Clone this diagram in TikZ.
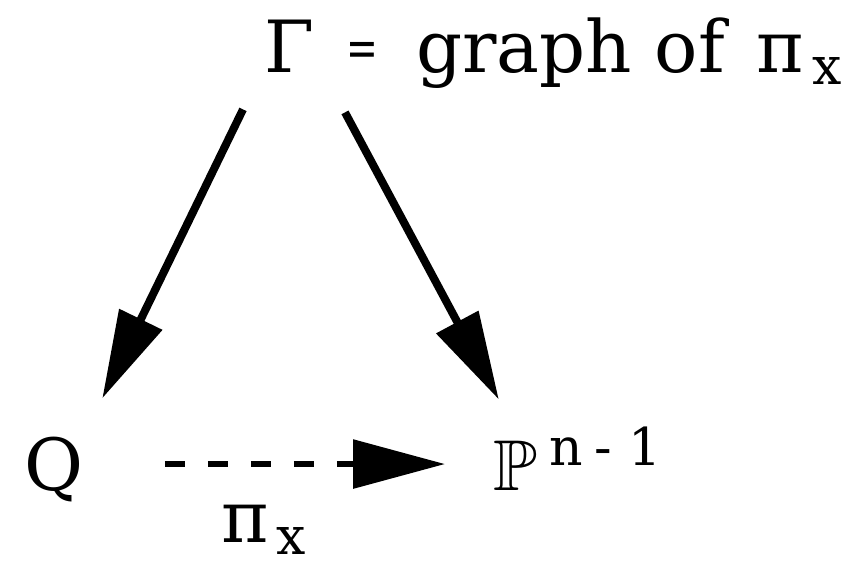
\documentclass[tikz,border=0pt]{standalone}
\usepackage{fix-cm}
\usepackage{amsmath,amssymb,amsfonts}
\usepackage{graphicx}
\usepackage{fontspec}
\setmainfont{DejaVu Serif}
\usepackage{tikz}
\usetikzlibrary{arrows.meta, positioning}

\newcommand{\subx}{\hspace{4pt}\raisebox{-6pt}{\fontsize{26}{28}\selectfont x}}
\newcommand{\smalleq}{\raisebox{3pt}{\scalebox{1}[1.4]{\fontsize{19}{20}\selectfont =}}}

\begin{document}
\begin{tikzpicture}[
    x=0.5pt, y=-0.5pt,
    every node/.style={font=\fontsize{36}{44}\selectfont, inner sep=0pt},
    mapline/.style={draw=black, line width=4pt, -{Triangle[length=44pt, width=23pt]}},
    rational/.style={draw=black, line width=3pt, dash pattern=on 10pt off 11.5pt,
                     -{Triangle[length=46pt, width=24pt]}}
]
\useasboundingbox (0,0) rectangle (848,568);

% -------- Top: the graph, bottom row: Q and projective space --------
\node[anchor=base west] (graph) at (264,72)
    {Γ\hspace{16pt}\smalleq\hspace{19pt}graph of\hspace{16pt}π\subx};
\node[anchor=base]      (Q)     at (54,490) {Q};
\node[anchor=base west] (proj)  at (493,490)
    {$\mathbb{P}$\hspace{6pt}\raisebox{12.5pt}{\fontsize{26}{28}\selectfont n\hspace{6pt}-\hspace{8pt}1}};

% -------- Projections from the graph --------
\draw[mapline, shorten >=21pt]   ([xshift=-10.5pt, yshift=-10.5pt]graph.south west) -- (Q.north east);
\draw[mapline, shorten >=15pt] ([xshift=40.5pt, yshift=-12pt]graph.south west) -- ([xshift=10pt]proj.north west);

% -------- Rational map --------
\draw[rational, shorten <=40.5pt, shorten >=24pt] ([yshift=2.5pt]Q.east) -- ([yshift=2.5pt]Q.east -| proj.west)
    node[pos=0.44, below=19pt] (pix) {π\subx};

\end{tikzpicture}
\end{document}
